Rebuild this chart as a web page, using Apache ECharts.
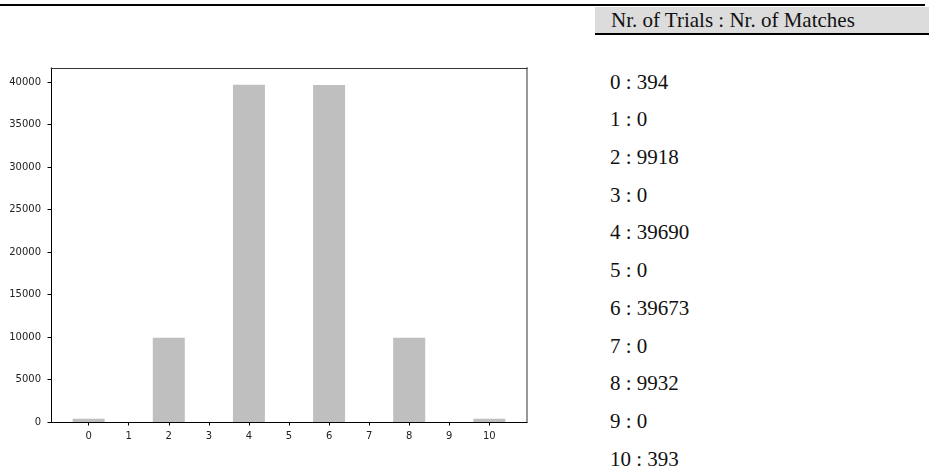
<!DOCTYPE html>
<html>
<head>
<meta charset="utf-8">
<title>Nr. of Trials : Nr. of Matches</title>
<script src="https://cdn.jsdelivr.net/npm/echarts@6/dist/echarts.min.js"></script>
<style>
  html, body { margin: 0; padding: 0; background: #fff; }
  .page { position: relative; width: 929px; height: 473px; overflow: hidden; }
  .topline { position: absolute; left: 0; top: 4px; width: 925px; height: 2px; background: #000; }
  .charts { position: absolute; left: 0; top: 0; width: 590px; height: 473px; }
  .header {
    position: absolute; left: 595px; top: 7px; width: 330px; height: 26px;
    background: #dcdcdc; border-bottom: 2px solid #000;
    font-family: "Liberation Serif", "DejaVu Serif", serif; font-size: 21px;
    line-height: 26px; padding-left: 16px; box-sizing: content-box; color: #111;
  }
  .list {
    position: absolute; left: 610px; top: 63.6px; margin: 0; padding: 0; list-style: none;
    font-family: "Liberation Serif", "DejaVu Serif", serif; font-size: 21px; color: #111;
  }
  .list li { line-height: 37.73px; height: 37.73px; white-space: nowrap; }
</style>
</head>
<body>
<div class="page">
  <div class="topline"></div>
  <div class="charts" id="charts"></div>
  <div class="header" id="header"></div>
  <ul class="list" id="list"></ul>
</div>
<script>
// number of trials and the matches counted for each
var trials = [0, 1, 2, 3, 4, 5, 6, 7, 8, 9, 10];
var matches = [394, 0, 9918, 0, 39690, 0, 39673, 0, 9932, 0, 393];
var yTicks = [0, 5000, 10000, 15000, 20000, 25000, 30000, 35000, 40000];
var headerText = "Nr. of Trials : Nr. of Matches";

document.getElementById("header").textContent = headerText;
var list = document.getElementById("list");
trials.forEach(function (t, i) {
  var li = document.createElement("li");
  li.textContent = t + " : " + matches[i];
  list.appendChild(li);
});

// matplotlib style limits: bar width 0.8, 5% margin
var xMin = trials[0] - 0.4;
var xMax = trials[trials.length - 1] + 0.4;
var xPad = (xMax - xMin) * 0.05;
var yMax = Math.max.apply(null, matches) * 1.05;

var tickFont = { fontFamily: "DejaVu Sans", fontSize: 10, color: "#222" };
var plain = function (v) { return String(v); };

var myecharts = echarts.init(document.getElementById("charts"), null, { renderer: "canvas" });
myecharts.setOption({
  animation: false,
  grid: { left: 51, top: 68, width: 476, height: 354, containLabel: false },
  xAxis: [
    {
      type: "value",
      min: xMin - xPad,
      max: xMax + xPad,
      position: "bottom",
      axisLine: { show: true, onZero: false, lineStyle: { color: "#000", width: 1 } },
      axisTick: { show: true, length: 3.5, lineStyle: { color: "#000" }, customValues: trials },
      axisLabel: Object.assign({ margin: 9, customValues: trials, formatter: plain }, tickFont),
      splitLine: { show: false },
    },
    {
      type: "value",
      min: xMin - xPad,
      max: xMax + xPad,
      position: "top",
      axisLine: { show: true, onZero: false, lineStyle: { color: "#333", width: 1 } },
      axisTick: { show: false },
      axisLabel: { show: false },
      splitLine: { show: false },
    },
  ],
  yAxis: [
    {
      type: "value",
      min: 0,
      max: yMax,
      position: "left",
      axisLine: { show: true, onZero: false, lineStyle: { color: "#000", width: 1 } },
      axisTick: { show: true, length: 3.5, lineStyle: { color: "#000" }, customValues: yTicks },
      axisLabel: Object.assign({ margin: 10, customValues: yTicks, formatter: plain }, tickFont),
      splitLine: { show: false },
    },
    {
      type: "value",
      min: 0,
      max: yMax,
      position: "right",
      axisLine: { show: true, onZero: false, lineStyle: { color: "#999", width: 2 } },
      axisTick: { show: false },
      axisLabel: { show: false },
      splitLine: { show: false },
    },
  ],
  series: [
    {
      type: "bar",
      xAxisIndex: 0,
      yAxisIndex: 0,
      barWidth: 32,
      itemStyle: { color: "#bfbfbf" },
      data: trials.map(function (t, i) { return [t, matches[i]]; }),
    },
  ],
});
</script>
</body>
</html>
